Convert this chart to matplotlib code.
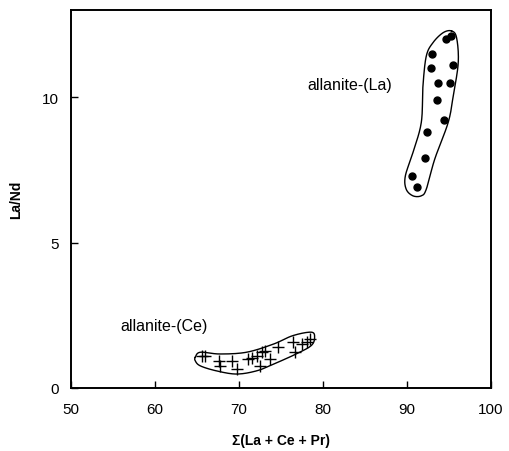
import numpy as np
import matplotlib
matplotlib.use("Agg")
import matplotlib.pyplot as plt

plt.rcParams['font.family'] = ['Liberation Sans', 'DejaVu Sans']

# allanite-(La) analyses (dots)
la_sum = [94.6, 95.2, 93.0, 95.5, 92.9, 93.7, 95.1, 93.6, 94.4, 92.4, 92.1, 90.6, 91.2]
la_ratio = [12.0, 12.1, 11.5, 11.1, 11.0, 10.5, 10.5, 9.9, 9.2, 8.8, 7.9, 7.3, 6.9]

# allanite-(Ce) analyses (crosses)
ce_sum = [65.6, 66.0, 67.6, 67.7, 69.2, 69.8, 71.1, 71.5, 72.1, 72.7,
          73.1, 72.5, 73.7, 74.6, 76.4, 76.7, 77.5, 78.1, 78.5]
ce_ratio = [1.10, 1.10, 0.93, 0.76, 0.93, 0.65, 1.00, 1.03, 1.10, 1.24,
            1.27, 0.76, 1.00, 1.41, 1.58, 1.24, 1.51, 1.58, 1.68]

# hand-drawn field outlines
la_field_x = [95.3, 95.9, 96.1, 95.5, 94.9, 93.3, 92.3, 91.7, 90.7, 89.9,
              89.8, 90.7, 91.7, 91.9, 92.3, 93.1, 94.3]
la_field_y = [12.28, 12.05, 11.19, 10.04, 9.13, 7.87, 6.84, 6.61, 6.61, 6.84,
              7.29, 8.09, 9.13, 10.39, 11.42, 11.88, 12.22]
ce_field_x = [64.8, 65.4, 67.7, 70.9, 74.1, 76.4, 78.6, 79.0, 78.6, 76.8,
              74.1, 72.1, 69.7, 67.3, 65.4, 64.8]
ce_field_y = [1.06, 1.23, 1.17, 1.23, 1.51, 1.80, 1.92, 1.74, 1.46, 1.17,
              0.82, 0.59, 0.48, 0.59, 0.76, 0.93]


def smooth_closed(xs, ys, n=20):
    # closed Catmull-Rom curve through the outline vertices
    p = np.column_stack([xs, ys])
    k = len(p)
    out = []
    t = np.linspace(0, 1, n, endpoint=False)[:, None]
    for i in range(k):
        p0, p1, p2, p3 = p[i - 1], p[i], p[(i + 1) % k], p[(i + 2) % k]
        seg = 0.5 * ((2 * p1) + (-p0 + p2) * t + (2 * p0 - 5 * p1 + 4 * p2 - p3) * t ** 2
                     + (-p0 + 3 * p1 - 3 * p2 + p3) * t ** 3)
        out.append(seg)
    out = np.vstack(out)
    out = np.vstack([out, out[:1]])
    return out[:, 0], out[:, 1]


fig = plt.figure(figsize=(5.09, 4.52), dpi=100)
ax = fig.add_axes([71 / 509, 1 - 389 / 452, 420 / 509, 378 / 452])

for fx, fy in [(la_field_x, la_field_y), (ce_field_x, ce_field_y)]:
    sx, sy = smooth_closed(fx, fy)
    ax.plot(sx, sy, color='black', lw=1.0)

ax.plot(la_sum, la_ratio, 'o', color='black', ms=5)
ax.plot(ce_sum, ce_ratio, '+', color='black', ms=8, mew=1.0)

ax.text(88.2, 10.45, 'allanite-(La)', fontsize=11.5, ha='right', va='center')
ax.text(66.3, 2.15, 'allanite-(Ce)', fontsize=11.5, ha='right', va='center')

ax.set_xlim(50, 100)
ax.set_ylim(0, 13.0)
ax.set_xticks([50, 60, 70, 80, 90, 100])
ax.set_yticks([0, 5, 10])
ax.tick_params(direction='in', length=5, width=1, labelsize=11)
ax.tick_params(axis='x', pad=10)
ax.tick_params(axis='y', pad=9)
for s in ax.spines.values():
    s.set_linewidth(1.4)

ax.set_xlabel('Σ(La + Ce + Pr)', fontsize=10, fontweight='bold', labelpad=12)
ax.set_ylabel('La/Nd', fontsize=10, fontweight='bold', labelpad=13)

fig.savefig('out.png', dpi=100)
